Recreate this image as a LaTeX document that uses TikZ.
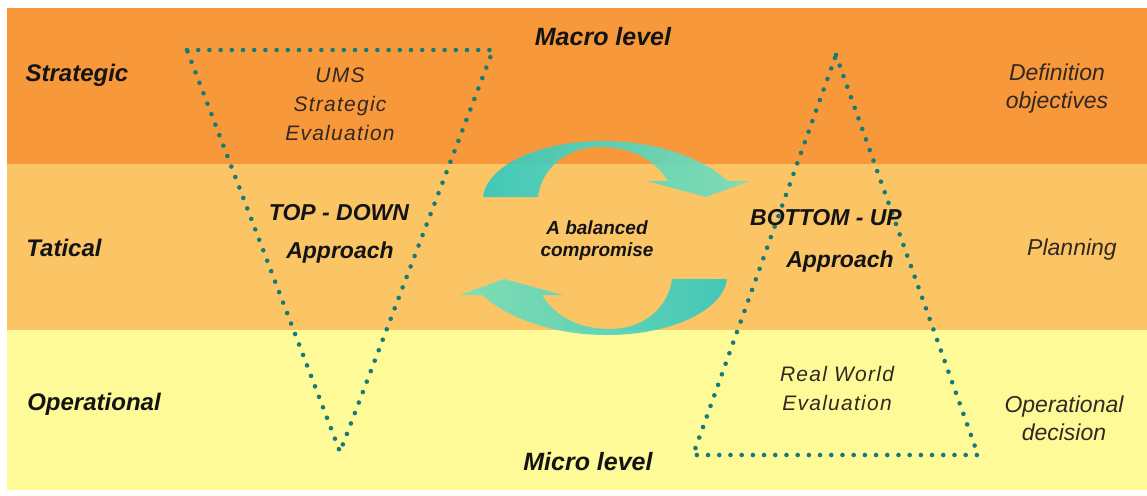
\documentclass[tikz,border=0pt]{standalone}
\usepackage{fontspec}
\setmainfont{Liberation Sans}
\newfontfamily\widefont[LetterSpace=6]{Liberation Sans}
\definecolor{bandA}{RGB}{247,152,58}
\definecolor{bandB}{RGB}{251,197,102}
\definecolor{bandC}{RGB}{255,250,152}
\definecolor{dotcol}{RGB}{22,122,120}
\definecolor{arrowDark}{RGB}{48,200,192}
\definecolor{arrowLight}{RGB}{118,224,188}
\definecolor{inkdark}{RGB}{20,20,20}
\definecolor{inksoft}{RGB}{50,40,35}
\begin{document}
\begin{tikzpicture}[x=0.5pt,y=-0.5pt,
  levellabel/.style={font=\fontsize{12}{14}\selectfont\bfseries\itshape, text=inkdark, inner sep=0pt},
  scalelabel/.style={font=\fontsize{12.5}{14}\selectfont\bfseries\itshape, text=inkdark, inner sep=0pt},
  approachlabel/.style={font=\fontsize{11.5}{14}\selectfont\bfseries\itshape, text=inkdark, inner sep=0pt},
  centrelabel/.style={font=\fontsize{9.5}{11}\selectfont\bfseries\itshape, text=inkdark, align=center, inner sep=0pt},
  sidelabel/.style={font=\fontsize{11.5}{14}\selectfont\itshape, text=inksoft, align=center, inner sep=0pt},
  evallabel/.style={font=\fontsize{10.5}{14.5}\selectfont\widefont\itshape, text=inksoft, align=center, inner sep=0pt},
  dotline/.style={draw=dotcol, line width=2.3pt, line cap=round, line join=round, dash pattern=on 0pt off 5.6pt},
  cyclearrow/.style={fill opacity=0.9}
]
\useasboundingbox (0,0) rectangle (1147,495);
\fill[white] (0,0) rectangle (1147,495);

% three decision levels
\fill[bandA] (7,8) rectangle (1147,164);
\fill[bandB] (7,164) rectangle (1147,330);
\fill[bandC] (7,330) rectangle (1147,490);

% circular arrows of the compromise (upper one, then the half-turned copy)
\shade[cyclearrow, left color=arrowDark, right color=arrowLight]
  (483,197) .. controls (487,165) and (540,141) .. (603,141)
  .. controls (660,141) and (705,160) .. (728,181)
  -- (750,181) -- (706,197) -- (647,181) -- (668,181)
  .. controls (655,160) and (632,147) .. (600,147)
  .. controls (565,147) and (541,170) .. (538,197) -- cycle;
\shade[cyclearrow, left color=arrowLight, right color=arrowDark]
  (727,279) .. controls (723,311) and (670,335) .. (607,335)
  .. controls (550,335) and (505,316) .. (482,295)
  -- (460,295) -- (504,279) -- (563,295) -- (542,295)
  .. controls (555,316) and (578,329) .. (610,329)
  .. controls (645,329) and (669,306) .. (672,279) -- cycle;

% dotted triangles
\coordinate (tdL) at (187,50);
\coordinate (tdR) at (493,50);
\coordinate (tdB) at (340,452);
\coordinate (buT) at (836,55);
\coordinate (buL) at (693,455);
\coordinate (buR) at (978,455);
\draw[dotline] (tdL) -- (tdR) -- (tdB) -- cycle;
\draw[dotline] (buT) -- (buR) -- (buL) -- cycle;

% level names
\node[levellabel] (strat) at (77,75) {Strategic};
\node[levellabel] (tact) at (64,248) {Tatical};
\node[levellabel] (oper) at (94,404) {Operational};
\node[scalelabel] (macro) at (603,37) {Macro level};
\node[scalelabel] (micro) at (588,462) {Micro level};

% approaches
\node[approachlabel] (topdown) at (339,213) {TOP - DOWN};
\node[approachlabel] (tdappr) at (340,253) {Approach};
\node[approachlabel] (bottomup) at (826,218) {BOTTOM - UP};
\node[approachlabel] (buappr) at (840,262) {Approach};
\node[centrelabel] (compr) at (597,241) {A balanced\\compromise};

% evaluations
\node[evallabel] (ums) at (340,104) {UMS\\Strategic\\Evaluation};
\node[evallabel] (realw) at (837,388) {Real World\\Evaluation};

% outcomes per level
\node[sidelabel] (defobj) at (1057,89) {Definition\\objectives};
\node[sidelabel] (plan) at (1072,250) {Planning};
\node[sidelabel] (opdec) at (1064,418) {Operational\\decision};
\end{tikzpicture}
\end{document}
